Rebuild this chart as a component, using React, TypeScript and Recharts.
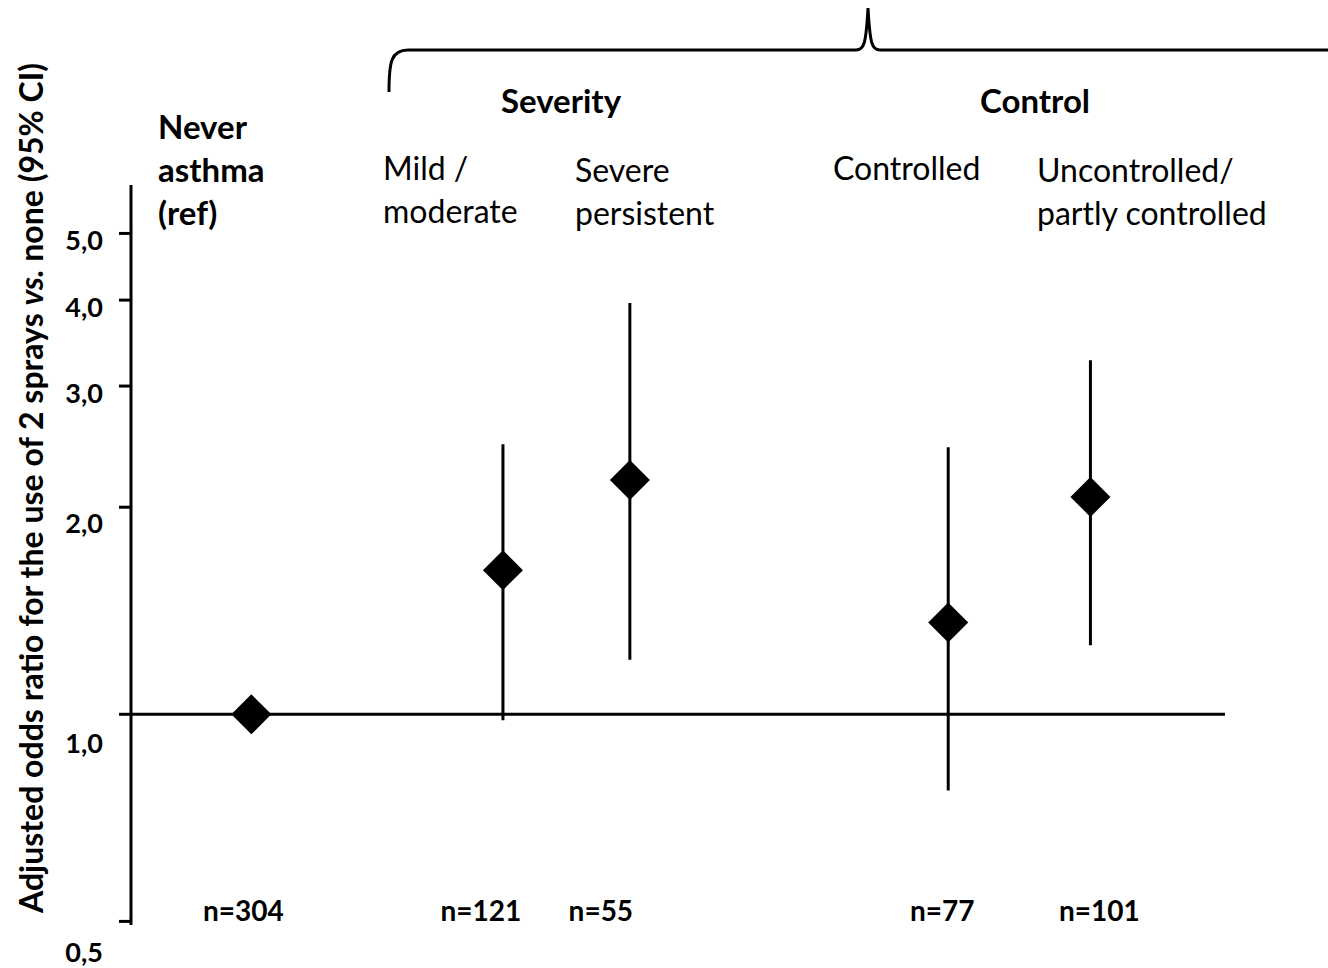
import { ComposedChart, Scatter, ErrorBar, XAxis, YAxis, ReferenceLine } from 'recharts'

// asthma groups, top-to-bottom lines of each header
const groupLines = [
  ['Never', 'asthma', '(ref)'],
  ['Mild /', 'moderate'],
  ['Severe', 'persistent'],
  ['Controlled'],
  ['Uncontrolled/', 'partly controlled'],
]
const groupX = [11, 34, 45.6, 74.7, 87.7]
const oddsRatio = [1.0, 1.62, 2.19, 1.36, 2.07]
const ciLow = [1.0, 0.98, 1.2, 0.775, 1.26]
const ciHigh = [1.0, 2.47, 3.96, 2.445, 3.27]
const sampleSizes = ['n=304', 'n=121', 'n=55', 'n=77', 'n=101']
const yTicks = [0.5, 1, 2, 3, 4, 5]

const data = groupX.map((x, i) => ({
  x,
  or: oddsRatio[i],
  err: [oddsRatio[i] - ciLow[i], ciHigh[i] - oddsRatio[i]],
  n: sampleSizes[i],
}))

const FONT = 'Lato, "Noto Sans", sans-serif'

// label placement
const headerLeft = [158, 383, 575, 833, 1037]
const headerTop = [139, 180, 182, 180, 182]
const headerBold = [true, false, false, false, false]
const nNudge = [-8, -22, -29, -6, 9]
const tickDrop: Record<number, number> = { 0.5: 31, 1: 29, 2: 16 }

function Diamond(props: any) {
  const { cx, cy } = props
  const r = 20
  return <polygon points={`${cx},${cy - r} ${cx + r},${cy} ${cx},${cy + r} ${cx - r},${cy}`} fill="#000" />
}

function YTick(props: any) {
  const { y, payload } = props
  const drop = tickDrop[payload.value] ?? 7
  return (
    <text x={103} y={y + drop} dy="0.36em" textAnchor="end" fontFamily={FONT} fontWeight={700} fontSize={27} fill="#000">
      {payload.value.toFixed(1).replace('.', ',')}
    </text>
  )
}

function NTick(props: any) {
  const { x, y, index } = props
  return (
    <text x={x + nNudge[index]} y={y - 12} textAnchor="middle" fontFamily={FONT} fontWeight={700} fontSize={28} fill="#000">
      {sampleSizes[index]}
    </text>
  )
}

export default function App() {
  return (
    <div style={{ position: 'absolute', left: 0, top: 0, width: 1328, height: 968, background: '#fff' }}>
      <ComposedChart width={1328} height={968} data={data} margin={{ top: 185, right: 103, bottom: 0, left: 0 }}>
        <XAxis
          type="number"
          dataKey="x"
          domain={[0, 100]}
          ticks={groupX}
          axisLine={false}
          tickLine={false}
          height={43}
          tick={<NTick />}
          interval={0}
        />
        <YAxis
          type="number"
          scale="log"
          domain={[0.494, 5.88]}
          allowDataOverflow
          ticks={yTicks}
          interval={0}
          width={131}
          tickSize={12}
          axisLine={{ stroke: '#000', strokeWidth: 3 }}
          tickLine={{ stroke: '#000', strokeWidth: 3 }}
          tick={<YTick />}
        />
        <ReferenceLine y={1} stroke="#000" strokeWidth={3} />
        <Scatter dataKey="or" shape={<Diamond />} isAnimationActive={false}>
          <ErrorBar dataKey="err" direction="y" width={0} stroke="#000" strokeWidth={3} />
        </Scatter>
      </ComposedChart>

      <svg width={1328} height={968} style={{ position: 'absolute', left: 0, top: 0, pointerEvents: 'none' }}>
        <path
          d="M 389 92 C 389 62, 391 50, 408 50 L 856 50 C 864 50, 866 44, 868 8 C 870 44, 872 50, 880 50 L 1328 50"
          fill="none"
          stroke="#000"
          strokeWidth={3}
        />
        <text x={561} y={113} textAnchor="middle" fontFamily={FONT} fontWeight={700} fontSize={33}>Severity</text>
        <text x={1035} y={113} textAnchor="middle" fontFamily={FONT} fontWeight={700} fontSize={33}>Control</text>
        {groupLines.map((lines, i) => (
          <text
            key={i}
            x={headerLeft[i]}
            y={headerTop[i]}
            fontFamily={FONT}
            fontWeight={headerBold[i] ? 700 : 400}
            fontSize={headerBold[i] ? 33 : 32}
          >
            {lines.map((l, j) => (
              <tspan key={j} x={headerLeft[i]} dy={j === 0 ? 0 : 43}>{l}</tspan>
            ))}
          </text>
        ))}
        <text
          transform="translate(43 488) rotate(-90)"
          textAnchor="middle"
          fontFamily={FONT}
          fontWeight={700}
          fontSize={32}
        >
          Adjusted odds ratio for the use of 2 sprays <tspan fontStyle="italic">vs.</tspan> none (95% CI)
        </text>
      </svg>
    </div>
  )
}
